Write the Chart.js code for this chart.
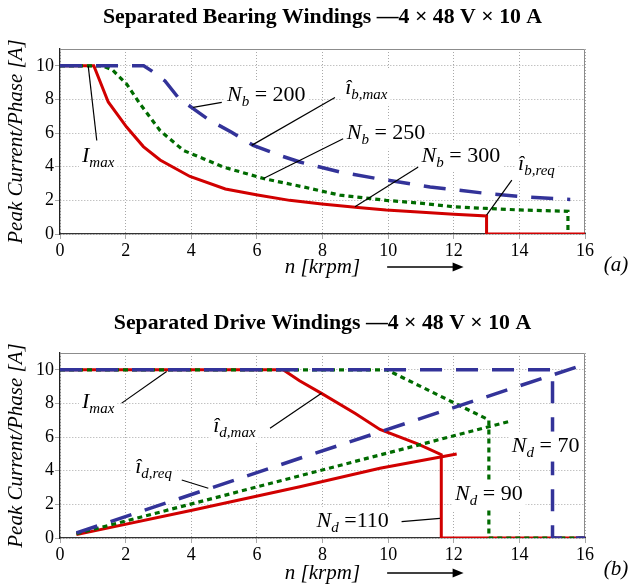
<!DOCTYPE html>
<html>
<head>
<meta charset="utf-8">
<script src="https://cdn.jsdelivr.net/npm/chart.js@4.4.1/dist/chart.umd.min.js"></script>
<style>
  html, body { margin: 0; padding: 0; background: #fff; }
  #wrap { position: relative; width: 630px; height: 584px; overflow: hidden; }
  canvas { position: absolute; left: 0; }
</style>
</head>
<body>
<div id="wrap">
  <canvas id="bearingChart" width="630" height="288" style="top:0px"></canvas>
  <canvas id="driveChart" width="630" height="296" style="top:288px"></canvas>
</div>
<script>
var speedTicks = [0, 2, 4, 6, 8, 10, 12, 14, 16];
var currentTicks = [0, 2, 4, 6, 8, 10];

// (a) bearing windings - speed in krpm, peak current in A
var bear300X = [0, 1.03, 1.47, 2.03, 2.54, 3.05, 3.96, 5.04, 6.02, 7.0, 7.98, 9.08, 9.94, 11.04, 12.0, 13.0, 13.0, 16];
var bear300Y = [10, 10, 7.85, 6.36, 5.2, 4.4, 3.42, 2.68, 2.32, 2.0, 1.78, 1.58, 1.43, 1.29, 1.17, 1.07, 0, 0];
var bear250X = [0, 1.3, 1.6, 2.03, 2.44, 3.05, 3.76, 4.37, 4.98, 6.2, 7.41, 8.53, 9.94, 11.04, 12.0, 13.0, 14.0, 15.48, 15.48];
var bear250Y = [10, 10, 9.75, 8.92, 7.73, 6.15, 4.97, 4.48, 3.98, 3.3, 2.8, 2.31, 2.0, 1.82, 1.62, 1.52, 1.43, 1.35, 0];
var bear200X = [0, 2.55, 2.79, 3.2, 3.6, 4.06, 4.57, 5.23, 5.89, 6.7, 7.31, 7.92, 8.53, 9.65, 11.28, 13.0, 14.2, 15.55];
var bear200Y = [10, 10, 9.7, 9.1, 8.12, 7.45, 6.75, 6.05, 5.27, 4.67, 4.28, 3.98, 3.69, 3.3, 2.8, 2.41, 2.2, 2.05];

// (b) drive windings - max current and required current
var drive110X = [0, 6.8, 7.3, 7.97, 9.0, 9.75, 10.9, 11.62, 11.62, 16];
var drive110Y = [10, 10, 9.35, 8.6, 7.4, 6.45, 5.6, 4.95, 0, 0];
var drive110ReqX = [0.5, 4.06, 7.31, 9.75, 12.09];
var drive110ReqY = [0.2, 1.67, 3.05, 4.15, 5.0];
var drive90X = [0, 9.96, 13.07, 13.07, 16];
var drive90Y = [10, 10, 7.02, 0, 0];
var drive90ReqX = [0.5, 7.31, 13.73];
var drive90ReqY = [0.25, 3.7, 6.95];
var drive70X = [0, 15.01, 15.01, 16];
var drive70Y = [10, 10, 0, 0];
var drive70ReqX = [0.5, 7.31, 15.8];
var drive70ReqY = [0.3, 4.74, 10.2];

var RED = '#d10000', BLUE = '#333399', GREEN = '#006b00';
var serif = '"Liberation Serif", "Times New Roman", serif';
Chart.defaults.font.family = serif;
Chart.defaults.color = '#000';

function pts(xs, ys) {
    return xs.map(function (x, i) { return { x: x, y: ys[i] }; });
}

function line(data, color, width, dash) {
    return {
        data: data, borderColor: color, borderWidth: width, borderDash: dash || [],
        pointRadius: 0, fill: false, tension: 0, borderCapStyle: 'butt', borderJoinStyle: 'miter'
    };
}

// label = italic letter + italic subscript + roman rest, on a white box
function drawLabel(ctx, x, y, lab) {
    var big = 'italic 22px ' + serif, small = 'italic 15px ' + serif, roman = '22px ' + serif;
    ctx.font = big;
    var w1 = ctx.measureText(lab.main).width;
    ctx.font = small;
    var w2 = ctx.measureText(lab.sub).width;
    ctx.font = roman;
    var w3 = lab.rest ? ctx.measureText(lab.rest).width : 0;
    var top = y - (lab.main === 'î' ? 22 : 17);
    ctx.fillStyle = '#fff';
    ctx.fillRect(x - 3, top - 3, w1 + w2 + w3 + 6, y + 10 - top + 3);
    ctx.fillStyle = '#000';
    ctx.textAlign = 'left';
    ctx.textBaseline = 'alphabetic';
    ctx.font = big;
    ctx.fillText(lab.main, x, y);
    ctx.font = small;
    ctx.fillText(lab.sub, x + w1, y + 5);
    if (lab.rest) {
        ctx.font = roman;
        ctx.fillText(lab.rest, x + w1 + w2, y);
    }
}

function makeExtras(cfg) {
    return {
        id: 'extras',
        beforeDatasetsDraw: function (chart) {
            var a = chart.chartArea, ctx = chart.ctx;
            ctx.save();
            ctx.strokeStyle = '#8c8c8c';
            ctx.lineWidth = 1;
            ctx.beginPath();
            ctx.moveTo(a.left, a.top + 0.5);
            ctx.lineTo(a.right - 0.5, a.top + 0.5);
            ctx.lineTo(a.right - 0.5, a.bottom);
            ctx.stroke();
            ctx.restore();
        },
        afterDatasetsDraw: function (chart) {
            var ctx = chart.ctx, xs = chart.scales.x, ys = chart.scales.y, a = chart.chartArea;
            ctx.save();
            ctx.strokeStyle = '#000';
            ctx.lineWidth = 1.2;
            cfg.leaders.forEach(function (l) {
                ctx.beginPath();
                ctx.moveTo(xs.getPixelForValue(l[0]), ys.getPixelForValue(l[1]));
                ctx.lineTo(xs.getPixelForValue(l[2]), ys.getPixelForValue(l[3]));
                ctx.stroke();
            });
            cfg.labels.forEach(function (lab) {
                drawLabel(ctx, xs.getPixelForValue(lab.x), ys.getPixelForValue(lab.y), lab);
            });
            // arrow next to the axis title
            var ay = a.bottom + cfg.arrowDy;
            var x1 = xs.getPixelForValue(9.97), x2 = xs.getPixelForValue(12.3);
            ctx.lineWidth = 1.6;
            ctx.beginPath();
            ctx.moveTo(x1, ay);
            ctx.lineTo(x2 - 8, ay);
            ctx.stroke();
            ctx.fillStyle = '#000';
            ctx.beginPath();
            ctx.moveTo(x2, ay);
            ctx.lineTo(x2 - 11, ay - 4.5);
            ctx.lineTo(x2 - 11, ay + 4.5);
            ctx.closePath();
            ctx.fill();
            ctx.font = 'italic 21px ' + serif;
            ctx.textAlign = 'center';
            ctx.textBaseline = 'middle';
            ctx.fillText(cfg.tag, a.right + 31, a.bottom + 31);
            // title centred over the plot area
            ctx.font = 'bold 21.8px ' + serif;
            ctx.fillText(cfg.title, (a.left + a.right) / 2, cfg.titleY);
            ctx.restore();
        }
    };
}

function makeOptions(topPad, xHeight, xTitlePad) {
    return {
        responsive: false,
        animation: false,
        devicePixelRatio: 1,
        layout: { padding: { left: 0, right: 45, top: topPad, bottom: 0 } },
        plugins: {
            legend: { display: false },
            tooltip: { enabled: false },
            title: { display: false }
        },
        scales: {
            x: {
                type: 'linear', min: 0, max: 16,
                afterBuildTicks: function (s) { s.ticks = speedTicks.map(function (v) { return { value: v }; }); },
                afterFit: function (s) { s.height = xHeight; },
                ticks: { font: { size: 18 }, padding: 1, maxRotation: 0 },
                grid: { color: '#a8a8a8', lineWidth: 1, drawTicks: true, tickLength: 5 },
                border: { display: true, color: '#333', width: 1.3, dash: [1, 2] },
                title: {
                    display: true, text: 'n [krpm]',
                    font: { size: 21, style: 'italic', lineHeight: 1 },
                    padding: { top: 0, bottom: xTitlePad }
                }
            },
            y: {
                type: 'linear', min: 0, max: 11,
                afterBuildTicks: function (s) { s.ticks = currentTicks.map(function (v) { return { value: v }; }); },
                afterFit: function (s) { s.width = 60; },
                ticks: { font: { size: 18 }, padding: 1 },
                grid: { color: '#a8a8a8', lineWidth: 1, drawTicks: true, tickLength: 5 },
                border: { display: true, color: '#222', width: 1.3, dash: [1, 2] },
                title: {
                    display: true, text: 'Peak Current/Phase [A]',
                    font: { size: 21, style: 'italic', lineHeight: 1.2 },
                    padding: { top: 4, bottom: 0 }
                }
            }
        }
    };
}

var bearingExtras = makeExtras({
    title: 'Separated Bearing Windings \u20144 \u00d7 48 V \u00d7 10 A', titleY: 17,
    tag: '(a)', arrowDy: 33,
    labels: [
        { x: 0.67, y: 4.28, main: 'I', sub: 'max', rest: '' },
        { x: 5.09, y: 7.93, main: 'N', sub: 'b', rest: ' = 200' },
        { x: 8.69, y: 8.33, main: 'î', sub: 'b,max', rest: '' },
        { x: 8.74, y: 5.66, main: 'N', sub: 'b', rest: ' = 250' },
        { x: 11.02, y: 4.28, main: 'N', sub: 'b', rest: ' = 300' },
        { x: 13.96, y: 3.79, main: 'î', sub: 'b,req', rest: '' }
    ],
    leaders: [
        [0.86, 10, 1.12, 5.56],
        [4.06, 7.53, 4.93, 7.83],
        [5.84, 5.27, 8.38, 8.12],
        [6.2, 3.3, 8.63, 5.66],
        [8.99, 1.62, 10.92, 3.98],
        [13.0, 1.12, 13.77, 3.2]
    ]
});

var driveExtras = makeExtras({
    title: 'Separated Drive Windings \u20144 \u00d7 48 V \u00d7 10 A', titleY: 35,
    tag: '(b)', arrowDy: 35,
    labels: [
        { x: 0.67, y: 7.72, main: 'I', sub: 'max', rest: '' },
        { x: 4.67, y: 6.33, main: 'î', sub: 'd,max', rest: '' },
        { x: 2.29, y: 3.85, main: 'î', sub: 'd,req', rest: '' },
        { x: 13.77, y: 5.14, main: 'N', sub: 'd', rest: ' = 70' },
        { x: 12.04, y: 2.26, main: 'N', sub: 'd', rest: ' = 90' },
        { x: 7.82, y: 0.67, main: 'N', sub: 'd', rest: ' =110' }
    ],
    leaders: [
        [1.88, 8.02, 3.25, 9.9],
        [6.4, 6.53, 7.97, 8.61],
        [3.71, 3.45, 4.52, 2.96],
        [10.41, 0.97, 11.58, 1.17]
    ]
});

new Chart(document.getElementById('bearingChart').getContext('2d'), {
    type: 'line',
    data: {
        datasets: [
            line(pts(bear200X, bear200Y), BLUE, 3.5, [22, 14]),
            line(pts(bear250X, bear250Y), GREEN, 3.2, [5, 4]),
            line(pts(bear300X, bear300Y), RED, 3)
        ]
    },
    options: makeOptions(49, 54, 10),
    plugins: [bearingExtras]
});

new Chart(document.getElementById('driveChart').getContext('2d'), {
    type: 'line',
    data: {
        datasets: [
            line(pts(drive70X, drive70Y), BLUE, 3.5, [22, 14]),
            line(pts(drive70ReqX, drive70ReqY), BLUE, 3.5, [22, 14]),
            line(pts(drive90X, drive90Y), GREEN, 3.2, [5, 4]),
            line(pts(drive90ReqX, drive90ReqY), GREEN, 3.2, [5, 4]),
            line(pts(drive110X, drive110Y), RED, 3),
            line(pts(drive110ReqX, drive110ReqY), RED, 3)
        ]
    },
    options: makeOptions(65, 46, 0),
    plugins: [driveExtras]
});
</script>
</body>
</html>
